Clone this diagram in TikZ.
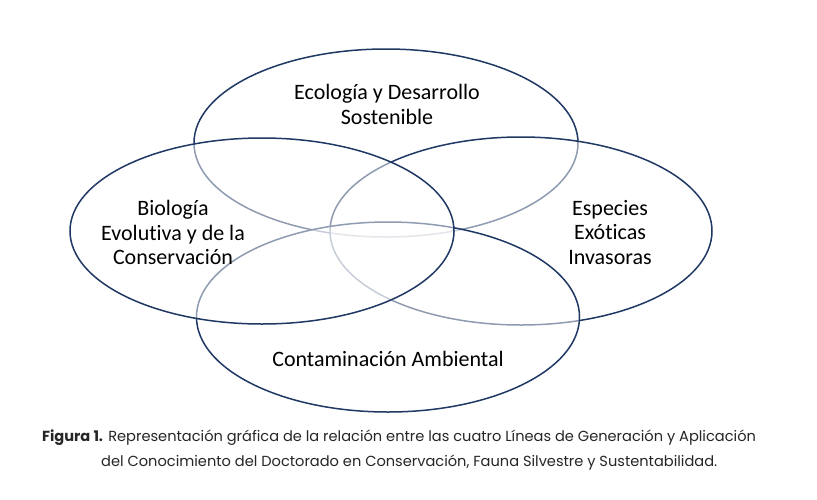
\documentclass[tikz,border=0pt]{standalone}
\usepackage{fontspec}
\setmainfont{Carlito}[Ligatures={NoCommon,NoContextual}]
\newfontfamily\capfont{Poppins}
\usetikzlibrary{shapes.geometric}
\definecolor{navy}{HTML}{1F3864}
\tikzset{
  ovalbox/.style={ellipse, draw=navy, line width=1.5pt, fill=white, fill opacity=0.5, draw opacity=1, inner sep=0pt},
  lbl/.style={align=center, font=\fontsize{22}{24.5}\selectfont, text=black},
  captext/.style={anchor=base west, inner sep=0pt, font=\capfont\fontsize{14.6}{17}\selectfont, text=black!85}
}
\begin{document}
\begin{tikzpicture}[x=1pt,y=-1pt]
\useasboundingbox (0,0) rectangle (817,499);
\fill[white] (0,0) rectangle (817,499);
\node[ovalbox, minimum width=384pt, minimum height=188pt] (eco) at (386,143) {};
\node[ovalbox, minimum width=382pt, minimum height=188pt] (esp) at (521,231) {};
\node[ovalbox, minimum width=383pt, minimum height=190pt] (con) at (388,317) {};
\node[ovalbox, minimum width=384pt, minimum height=186pt] (bio) at (262,231) {};
\node[lbl] (tEco) at (387,104.5) {Ecología y Desarrollo\\Sostenible};
\node[lbl] (tBio) at (173,232.5) {Biología\\Evolutiva y de la\\Conservación};
\node[lbl] (tEsp) at (610,232.5) {Especies\\Exóticas\\Invasoras};
\node[lbl] (tCon) at (388,359) {Contaminación Ambiental};
\node[captext] (c1) at (42,441) {\textbf{Figura 1.} Representación gráfica de la relación entre las cuatro Líneas de Generación y Aplicación};
\node[captext] (c2) at (101,466) {del Conocimiento del Doctorado en Conservación, Fauna Silvestre y Sustentabilidad.};
\end{tikzpicture}
\end{document}
